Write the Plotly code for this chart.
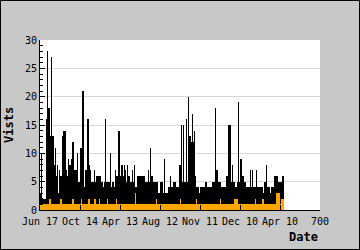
import plotly.graph_objects as go

# Daily visits (black), 10 days per row
visits = [
    2, 2, 3, 10, 2, 1, 2, 2, 2, 2,
    2, 2, 2, 2, 2, 2, 16, 8, 28, 16,
    16, 14, 18, 18, 13, 8, 6, 13, 27, 13,
    13, 13, 13, 13, 13, 6, 3, 8, 11, 3,
    3, 6, 3, 8, 6, 3, 2, 3, 7, 3,
    6, 6, 6, 6, 6, 5, 6, 13, 14, 7,
    14, 14, 14, 7, 5, 2, 7, 5, 6, 4,
    9, 7, 5, 8, 6, 8, 8, 4, 9, 7,
    5, 7, 12, 6, 7, 7, 2, 7, 5, 7,
    7, 7, 3, 7, 10, 5, 2, 2, 5, 2,
    2, 7, 11, 4, 2, 2, 4, 21, 4, 2,
    4, 4, 2, 4, 7, 7, 7, 7, 5, 16,
    16, 16, 8, 5, 5, 7, 5, 5, 4, 5,
    5, 4, 5, 5, 3, 5, 7, 5, 5, 4,
    5, 4, 6, 6, 4, 5, 3, 6, 5, 4,
    5, 6, 5, 3, 4, 5, 3, 2, 4, 3,
    5, 2, 4, 5, 16, 4, 5, 4, 5, 2,
    4, 5, 3, 5, 4, 10, 4, 3, 2, 4,
    4, 3, 5, 5, 5, 2, 3, 4, 2, 7,
    6, 5, 6, 5, 2, 6, 5, 14, 6, 6,
    6, 5, 4, 8, 8, 8, 8, 4, 6, 3,
    8, 8, 4, 7, 4, 2, 5, 4, 8, 4,
    6, 4, 6, 5, 4, 5, 2, 4, 5, 4,
    5, 7, 4, 4, 5, 8, 4, 2, 4, 2,
    2, 4, 2, 6, 6, 6, 6, 6, 6, 6,
    6, 6, 6, 6, 6, 6, 6, 6, 6, 6,
    6, 5, 2, 5, 5, 2, 5, 3, 5, 2,
    5, 7, 2, 4, 5, 11, 5, 6, 5, 4,
    6, 5, 5, 3, 5, 3, 5, 5, 4, 5,
    4, 5, 5, 4, 2, 2, 3, 2, 2, 3,
    4, 4, 5, 5, 2, 4, 5, 2, 3, 2,
    9, 3, 2, 3, 2, 3, 3, 2, 2, 3,
    3, 2, 4, 3, 2, 3, 6, 4, 2, 4,
    4, 2, 4, 2, 5, 5, 5, 5, 3, 2,
    3, 2, 4, 3, 2, 4, 3, 2, 3, 8,
    8, 8, 5, 4, 15, 5, 4, 5, 15, 5,
    4, 5, 5, 2, 5, 16, 5, 3, 5, 5,
    20, 5, 12, 13, 12, 12, 13, 5, 12, 5,
    12, 17, 12, 12, 6, 5, 14, 6, 3, 4,
    4, 2, 4, 3, 2, 4, 3, 2, 3, 2,
    3, 2, 4, 3, 4, 2, 4, 3, 4, 2,
    4, 3, 4, 4, 5, 5, 4, 3, 4, 3,
    4, 3, 4, 3, 4, 4, 3, 4, 3, 2,
    5, 5, 5, 5, 4, 3, 5, 5, 18, 5,
    7, 5, 5, 7, 4, 5, 5, 2, 5, 4,
    2, 5, 4, 2, 4, 2, 4, 4, 2, 4,
    4, 2, 4, 2, 4, 4, 6, 3, 6, 3,
    6, 3, 15, 15, 15, 15, 5, 5, 5, 5,
    5, 8, 5, 5, 3, 5, 4, 4, 4, 4,
    4, 4, 4, 4, 5, 19, 5, 2, 5, 2,
    5, 2, 9, 9, 6, 4, 6, 4, 6, 5,
    4, 5, 2, 5, 4, 2, 2, 4, 2, 2,
    4, 2, 4, 2, 2, 4, 7, 4, 2, 4,
    7, 4, 3, 4, 3, 4, 3, 4, 3, 4,
    7, 4, 4, 4, 2, 4, 4, 2, 4, 2,
    4, 3, 4, 4, 3, 4, 2, 3, 2, 2,
    2, 2, 5, 4, 2, 8, 4, 2, 4, 2,
    4, 2, 3, 4, 3, 2, 3, 3, 4, 3,
    4, 3, 4, 4, 3, 4, 6, 4, 5, 6,
    5, 4, 6, 5, 4, 5, 3, 5, 5, 3,
    5, 4, 5, 5, 4, 5, 5, 6, 6, 6,
]

# Orange series (new visitors), mostly 1 per day
orange = [1] * len(visits)
orange_spikes = {24: 2, 25: 2, 52: 2, 82: 2, 103: 2, 122: 2, 137: 2, 149: 2,
                 168: 2, 191: 2, 238: 3, 291: 2, 351: 2, 391: 2, 451: 2,
                 487: 2, 488: 2, 489: 2, 490: 2, 491: 2, 492: 2, 539: 2, 557: 2,
                 591: 3, 592: 3, 593: 3, 594: 3, 595: 3, 596: 3, 597: 3, 598: 3,
                 599: 3, 603: 2, 604: 2, 605: 2, 606: 2, 607: 2}
for k, v in orange_spikes.items():
    orange[k] = v

days = list(range(len(visits)))

tick_vals = [0, 100, 200, 300, 400, 500, 600, 700]
tick_text = ["Jun 17", "Oct 14", "Apr 13", "Aug 12", "Nov 11", "Dec 10", "Apr 10", "700"]

FONT = "DejaVu Sans Mono"

fig = go.Figure()
fig.add_trace(go.Bar(x=days, y=visits, width=1, offset=0,
                     marker=dict(color="black", line=dict(width=0))))
fig.add_trace(go.Bar(x=days, y=orange, width=1, offset=0,
                     marker=dict(color="#ffa500", line=dict(width=0))))

fig.update_layout(
    width=360, height=250,
    margin=dict(l=40, r=40, t=40, b=40),
    paper_bgcolor="#c8c8c8",
    plot_bgcolor="white",
    barmode="overlay",
    bargap=0,
    showlegend=False,
    font=dict(family=FONT, size=10, color="black"),
    xaxis=dict(
        range=[0, 700], tickmode="array", tickvals=tick_vals, ticktext=tick_text,
        tickangle=0, automargin=False, ticklabelstandoff=2,
        ticks="inside", ticklen=5, tickcolor="black", tickwidth=1,
        showline=True, linecolor="black", linewidth=1,
        showgrid=False, zeroline=False,
        tickfont=dict(family=FONT, size=10),
    ),
    yaxis=dict(
        range=[0, 30], tickmode="linear", tick0=0, dtick=5, automargin=False,
        ticks="inside", ticklen=5, tickcolor="black", tickwidth=1,
        showline=True, linecolor="black", linewidth=1,
        showgrid=True, gridcolor="#d8d8d8", gridwidth=1,
        zeroline=False,
        minor=dict(ticks="inside", ticklen=3, dtick=1, tickcolor="black", showgrid=False),
        tickfont=dict(family=FONT, size=10),
    ),
    annotations=[
        dict(text="<b>Date</b>", xref="paper", yref="paper", x=1, y=0,
             xanchor="right", yanchor="top", yshift=-18, showarrow=False,
             font=dict(family=FONT, size=12)),
        dict(text="<b>Vists</b>", xref="paper", yref="paper", x=0, y=0.5,
             xanchor="center", yanchor="middle", xshift=-31, textangle=-90,
             showarrow=False, font=dict(family=FONT, size=12)),
    ],
    shapes=[
        dict(type="rect", xref="paper", yref="paper",
             x0=-40/280 + 0.5/280, x1=1 + 40/280 - 0.5/280,
             y0=-40/170 + 0.5/170, y1=1 + 40/170 - 0.5/170,
             line=dict(color="black", width=1), layer="above"),
    ],
)

fig.write_html("out.html")
